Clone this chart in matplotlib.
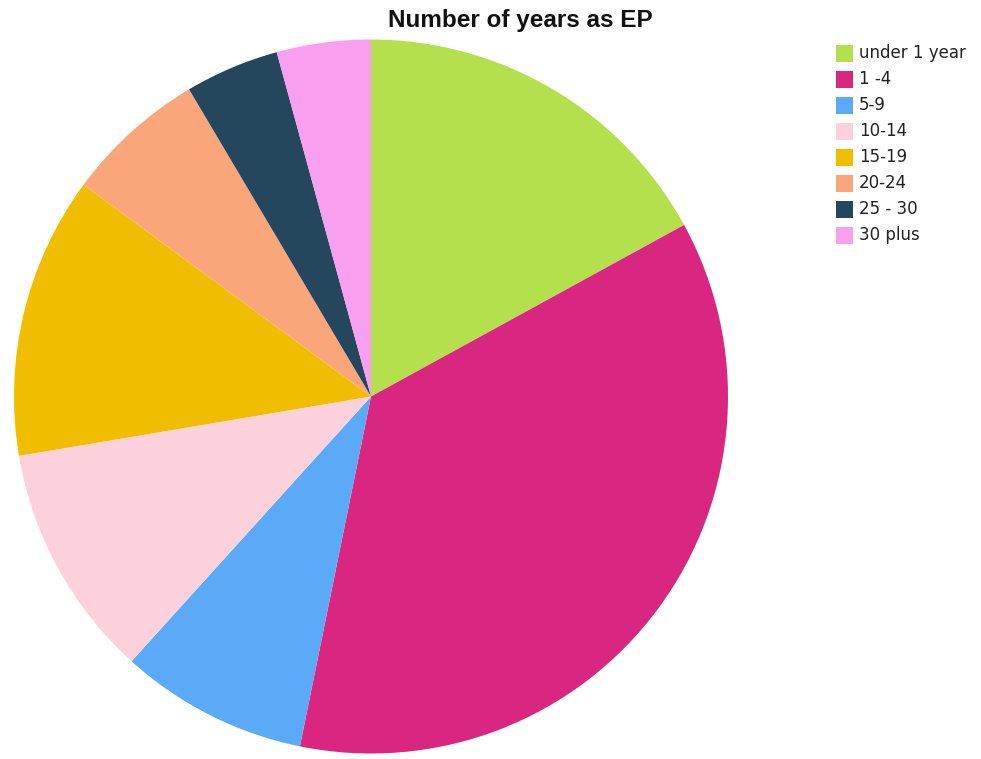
import matplotlib
matplotlib.use("Agg")
import matplotlib.pyplot as plt
from matplotlib.patches import Rectangle

categories = ["under 1 year", "1 -4", "5-9", "10-14", "15-19", "20-24", "25 - 30", "30 plus"]
counts = [8, 17, 4, 5, 6, 3, 2, 2]
colors = ["#b5e04e", "#d92680", "#5aaaf8", "#fdd1dc", "#f0bd00", "#fba57a", "#24475d", "#f99ff0"]
title = "Number of years as EP"

plt.rcParams["font.family"] = ["Liberation Sans", "DejaVu Sans"]

W, H = 981, 759
fig = plt.figure(figsize=(W / 100, H / 100), dpi=100)
fig.patch.set_facecolor("white")

# pie area: centre (371, 396.5) px, radius 357 px
cx, cy, r = 371, 396.5, 357
ax = fig.add_axes([(cx - r) / W, (H - cy - r) / H, 2 * r / W, 2 * r / H])
ax.pie(counts, colors=colors, startangle=90, counterclock=False, radius=1.0,
       wedgeprops=dict(linewidth=0))
ax.set_xlim(-1, 1)
ax.set_ylim(-1, 1)
ax.set_aspect("auto")
ax.axis("off")

fig.text(520 / W, 1 - 27 / H, title, ha="center", va="baseline",
         fontsize=17.5, fontweight="bold", color="#111111")

# legend drawn as figure artists
y0, step, box = 53.5, 26, 17
for i, (lab, col) in enumerate(zip(categories, colors)):
    yc = y0 + i * step
    fig.patches.append(Rectangle((836 / W, 1 - (yc + box / 2) / H), box / W, box / H,
                                 transform=fig.transFigure, facecolor=col,
                                 edgecolor="none"))
    fig.text(859 / W, 1 - yc / H, lab, ha="left", va="center",
             fontsize=12, color="#222222", family="DejaVu Sans")

fig.savefig("out.png", dpi=100)
